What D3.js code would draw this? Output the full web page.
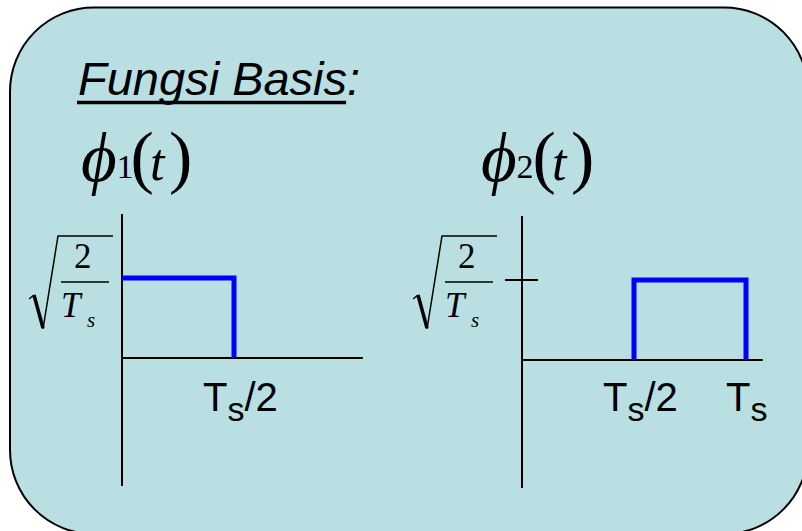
<!DOCTYPE html>
<html>
<head>
<meta charset="utf-8">
<script src="https://cdn.jsdelivr.net/npm/d3@7"></script>
<style>
  html, body { margin: 0; padding: 0; background: #ffffff; }
  svg { display: block; }
</style>
</head>
<body>
<svg id="chart" width="802" height="531"></svg>
<script>
// Orthonormal basis functions: time in units of Ts, amplitude in units of sqrt(2/Ts)
const phi1Time = [0, 0.5, 0.5];
const phi1Amp  = [1, 1, 0];
const phi2Time = [0.5, 0.5, 1, 1];
const phi2Amp  = [0, 1, 1, 0];

// Time-axis labels (base, subscript, suffix)
const phi1TickValues = [0.5];
const phi1TickLabels = [["T", "s", "/2"]];
const phi2TickValues = [0.5, 1];
const phi2TickLabels = [["T", "s", "/2"], ["T", "s", ""]];

const basisIndex = ["1", "2"];
const titleText = "Fungsi Basis";

const svg = d3.select("#chart");
const serif = "'Liberation Serif', 'Times New Roman', 'DejaVu Serif', serif";
const sans = "'Liberation Sans', Arial, sans-serif";

// Rounded panel background
svg.append("rect")
  .attr("x", 10).attr("y", 7.5)
  .attr("width", 798).attr("height", 526.5)
  .attr("rx", 84).attr("ry", 84)
  .attr("fill", "#b9dfe3")
  .attr("stroke", "#000").attr("stroke-width", 2);

// Title with underline (colon is not underlined)
const title = svg.append("text")
  .attr("x", 78).attr("y", 95)
  .attr("font-family", sans).attr("font-style", "italic")
  .attr("font-size", 47).attr("fill", "#000");
title.append("tspan").text(titleText);
title.append("tspan").text(":");
const ulLen = title.node().getSubStringLength(0, titleText.length);
svg.append("line")
  .attr("x1", 77).attr("x2", 77 + ulLen)
  .attr("y1", 102.5).attr("y2", 102.5)
  .attr("stroke", "#000").attr("stroke-width", 3.5);

// Function heading  phi_k(t), one text element with positioned pieces
function heading(x, idx, shift) {
  const t = svg.append("text").attr("font-family", serif).attr("fill", "#000");
  t.append("tspan").attr("x", x).attr("y", 181)
    .attr("font-style", "italic").attr("font-size", 69).text("\u03D5");
  t.append("tspan").attr("x", x + 35.5).attr("y", 178)
    .attr("font-style", "normal").attr("font-size", 34).text(idx);
  t.append("tspan").attr("x", x + 49.5 + shift).attr("y", 180)
    .attr("font-style", "normal").attr("font-size", 70).text("(");
  t.append("tspan").attr("x", x + 69 + shift).attr("y", 180)
    .attr("font-style", "italic").attr("font-size", 52).text("t");
  t.append("tspan").attr("x", x + 88 + shift).attr("y", 180)
    .attr("font-style", "normal").attr("font-size", 70).text(")");
}

// sqrt(2/Ts) amplitude label
function radicalLabel(left) {
  const g = svg.append("g").attr("transform", `translate(${left},0)`);
  g.append("path")
    .attr("d", "M0,299 L5,295")
    .attr("fill", "none").attr("stroke", "#000").attr("stroke-width", 1.5);
  g.append("path")
    .attr("d", "M5,295 L14,328")
    .attr("fill", "none").attr("stroke", "#000").attr("stroke-width", 3.5);
  g.append("path")
    .attr("d", "M14,329 L29,236 L84,236")
    .attr("fill", "none").attr("stroke", "#000").attr("stroke-width", 1.5);
  g.append("text").attr("x", 45).attr("y", 268)
    .attr("font-family", serif).attr("font-size", 35).text("2");
  g.append("line").attr("x1", 32).attr("x2", 80)
    .attr("y1", 282).attr("y2", 282)
    .attr("stroke", "#000").attr("stroke-width", 1.5);
  const den = g.append("text").attr("font-family", serif).attr("font-style", "italic");
  den.append("tspan").attr("x", 32).attr("y", 317).attr("font-size", 35).text("T");
  den.append("tspan").attr("x", 58).attr("y", 327).attr("font-size", 21).text("s");
}

function panel(x0, y0, times, amps, tickValues, tickLabels, radLeft, showTick) {
  const x = d3.scaleLinear().domain([0, 1.075]).range([x0, x0 + 240.8]);
  const y = d3.scaleLinear().domain([-1.6, 1.8]).range([y0 + 128, y0 - 144]);
  const g = svg.append("g");

  // axes
  g.append("line")
    .attr("x1", x(0)).attr("x2", x(0))
    .attr("y1", y(1.8)).attr("y2", y(-1.6))
    .attr("stroke", "#000").attr("stroke-width", 2);
  g.append("line")
    .attr("x1", x(0)).attr("x2", x(1.075))
    .attr("y1", y(0)).attr("y2", y(0))
    .attr("stroke", "#000").attr("stroke-width", 2);
  if (showTick) {
    g.append("line")
      .attr("x1", x(0) - 17).attr("x2", x(0) + 16)
      .attr("y1", y(1)).attr("y2", y(1))
      .attr("stroke", "#000").attr("stroke-width", 2);
  }

  // waveform
  const pts = times.map((t, i) => [t, amps[i]]);
  g.append("path")
    .attr("d", d3.line().x(d => x(d[0])).y(d => y(d[1]))(pts))
    .attr("fill", "none").attr("stroke", "#0000ff")
    .attr("stroke-width", 5).attr("stroke-linejoin", "miter");

  // time labels
  tickValues.forEach((v, i) => {
    const [base, sub, rest] = tickLabels[i];
    const off = rest ? -31 : -20;
    const t = g.append("text")
      .attr("x", x(v) + off).attr("y", 411)
      .attr("font-family", sans).attr("fill", "#000");
    t.append("tspan").attr("font-size", 40).text(base);
    t.append("tspan").attr("font-size", 34).attr("dy", 10).text(sub);
    if (rest) t.append("tspan").attr("font-size", 40).attr("dy", -10).text(rest);
  });

  radicalLabel(radLeft);
}

heading(81, basisIndex[0], 0);
heading(481, basisIndex[1], 2);
panel(122, 358, phi1Time, phi1Amp, phi1TickValues, phi1TickLabels, 29, false);
panel(522, 360, phi2Time, phi2Amp, phi2TickValues, phi2TickLabels, 413, true);
</script>
</body>
</html>
